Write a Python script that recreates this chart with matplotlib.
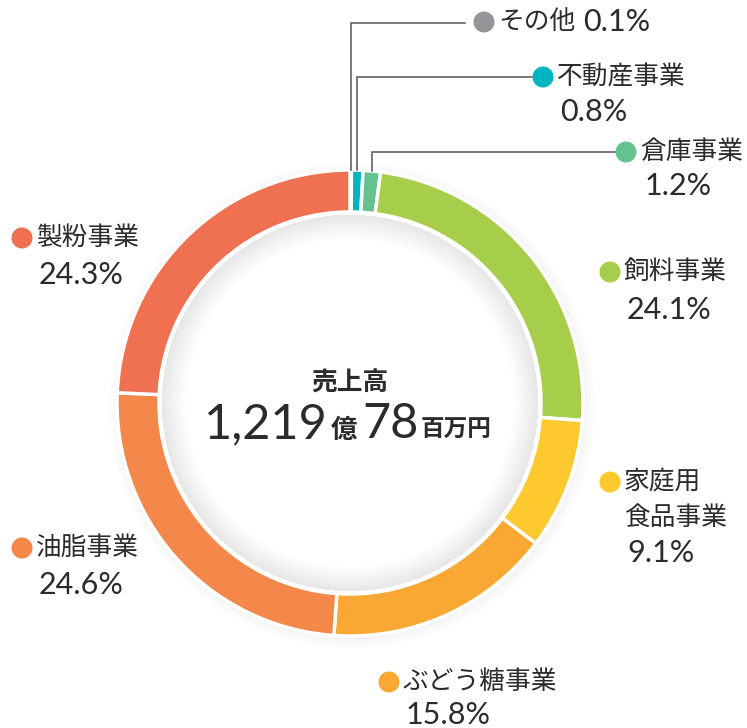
import numpy as np
import matplotlib
matplotlib.use("Agg")
import matplotlib.pyplot as plt
from matplotlib.patches import Wedge, Circle

plt.rcParams['font.family'] = ['Noto Sans CJK JP', 'DejaVu Sans']

# segment data, clockwise from the top
segments = ['その他', '不動産事業', '倉庫事業', '飼料事業', '家庭用食品事業',
            'ぶどう糖事業', '油脂事業', '製粉事業']
shares = [0.1, 0.8, 1.2, 24.1, 9.1, 15.8, 24.6, 24.3]
colors = ['#939598', '#00B5BD', '#64C28E', '#A6CE4A', '#FEC92E',
          '#F9A834', '#F4874A', '#F07052']

total_label = '売上高'
total_oku = '1,219'
total_man = '78'

W, H = 747, 728
CX, CY = 350, H - 403
R, RING = 233, 42
TXT = '#2b2b2b'
NUM_FONT = ['Lato', 'DejaVu Sans']
LBL_SIZE = 18.5
PCT_SIZE = 22

fig = plt.figure(figsize=(W / 100, H / 100), dpi=100)
ax = fig.add_axes([0, 0, 1, 1])
ax.set_xlim(0, W)
ax.set_ylim(0, H)
ax.set_aspect('equal')
ax.axis('off')

# faint outer shadow
for k in range(10):
    ax.add_patch(Circle((CX + 2, CY - 2), R + 1 + k, color='#888888',
                        alpha=0.008, lw=0, zorder=1))

wedges, _ = ax.pie(shares, colors=colors, startangle=90, counterclock=False,
                   radius=R, center=(CX, CY),
                   wedgeprops=dict(width=RING, edgecolor='white', linewidth=2.5))
for w in wedges:
    w.set_zorder(3)
ax.add_patch(Circle((CX, CY), R - RING, color='white', lw=0, zorder=2))
ax.set_xlim(0, W)
ax.set_ylim(0, H)

# inner soft shadow, a little stronger towards the upper left
r_in = R - RING - 3
for k in range(24):
    ax.add_patch(Wedge((CX, CY), r_in, 0, 360, width=k + 1, color='#888888',
                       alpha=0.007, lw=0, zorder=2))

# leader lines for the three thin segments
cum = np.cumsum([0] + shares)
leader_y = [23, 77, 152]
leader_end = [465, 532, 616]
for i in range(3):
    mid = 90 - (cum[i] + shares[i] / 2) * 3.6
    x0 = CX + R * np.cos(np.radians(mid))
    y0 = CY + R * np.sin(np.radians(mid))
    ly = H - leader_y[i]
    ax.plot([x0, x0, leader_end[i]], [y0, ly, ly], color='#555555',
            lw=1.1, zorder=4, solid_joinstyle='miter')


def label(mx, my, lines, pct, color, pct_dy=36, pct_dx=3):
    ax.add_patch(Circle((mx, H - my), 10.5, color=color, lw=0, zorder=5))
    y = my
    for ln in lines:
        ax.text(mx + 14, H - y, ln, fontsize=LBL_SIZE, color=TXT, ha='left',
                va='center', zorder=5)
        y += 36
    if pct is not None:
        ax.text(mx + 14 + pct_dx, H - (y - 36 + pct_dy), pct, fontsize=PCT_SIZE,
                color=TXT, ha='left', va='center', family=NUM_FONT, zorder=5)


def pct(v):
    return f'{v:.1f}%'


# その他 on one line
ax.add_patch(Circle((484, H - 22), 10.5, color=colors[0], lw=0, zorder=5))
ax.text(498, H - 22, segments[0], fontsize=LBL_SIZE, color=TXT, ha='left',
        va='center', zorder=5)
ax.text(583, H - 22, pct(shares[0]), fontsize=PCT_SIZE, color=TXT, ha='left',
        va='center', family=NUM_FONT, zorder=5)

label(543, 77, [segments[1]], pct(shares[1]), colors[1], pct_dy=35)
label(626, 152, [segments[2]], pct(shares[2]), colors[2], pct_dy=34, pct_dx=5)
label(610, 272, [segments[3]], pct(shares[3]), colors[3], pct_dy=38)
label(610, 482, ['家庭用', '食品事業'], pct(shares[4]), colors[4], pct_dy=35)
label(389, 682, [segments[5]], pct(shares[5]), colors[5], pct_dy=33)
label(22, 548, [segments[6]], pct(shares[6]), colors[6], pct_dy=37)
label(22, 238, [segments[7]], pct(shares[7]), colors[7], pct_dy=37)

# centre total
ax.text(CX, H - 383, total_label, fontsize=18.5, color=TXT, ha='center',
        va='center', fontweight='bold', zorder=5)
ax.text(328, H - 438, total_oku, fontsize=35, color=TXT, ha='right',
        va='baseline', family=NUM_FONT, zorder=5)
ax.text(331, H - 438, '億', fontsize=19, color=TXT, ha='left',
        va='baseline', fontweight='bold', zorder=5)
ax.text(362, H - 438, total_man, fontsize=35, color=TXT, ha='left',
        va='baseline', family=NUM_FONT, zorder=5)
ax.text(421, H - 437, '百万円', fontsize=17, color=TXT, ha='left',
        va='baseline', fontweight='bold', zorder=5)

fig.savefig('out.png', dpi=100)
